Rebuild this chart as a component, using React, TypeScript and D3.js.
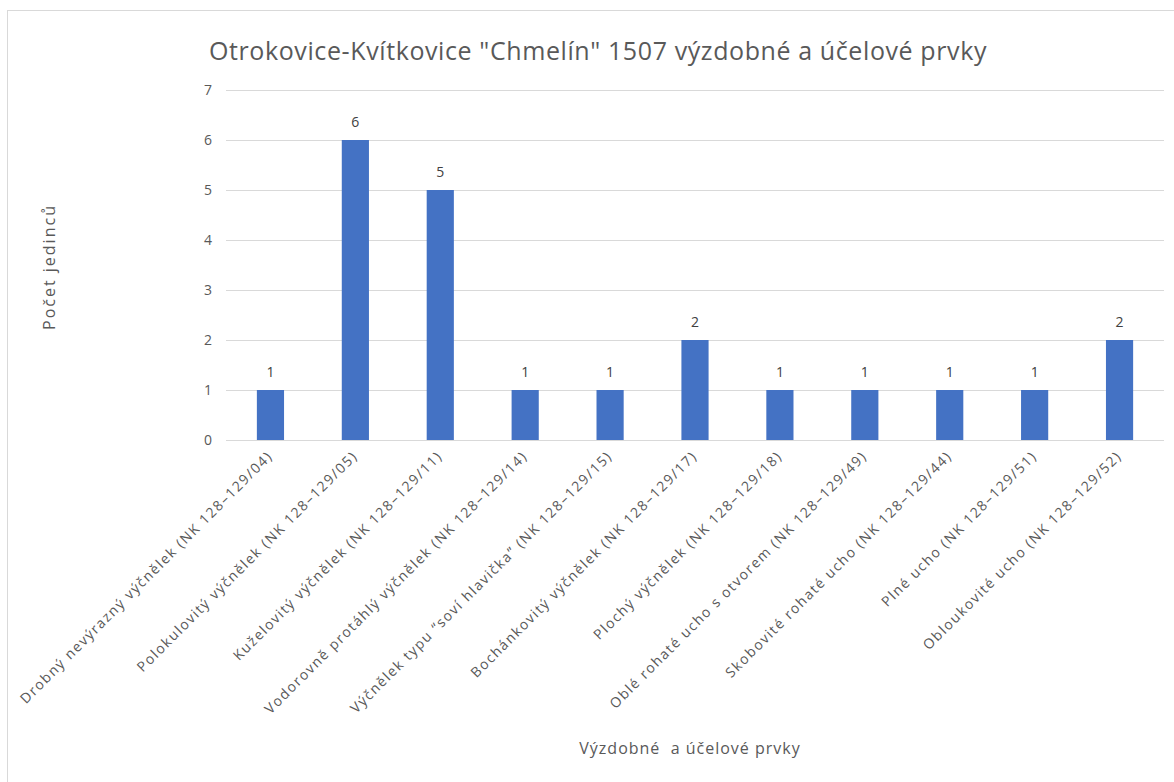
import React from "react";
import * as d3 from "d3";

const title = 'Otrokovice-Kvítkovice "Chmelín" 1507 výzdobné a účelové prvky';
const yAxisTitle = "Počet jedinců";
const xAxisTitle = "Výzdobné  a účelové prvky";

const categories = [
  "Drobný nevýrazný výčnělek (NK 128–129/04)",
  "Polokulovitý výčnělek (NK 128–129/05)",
  "Kuželovitý výčnělek (NK 128–129/11)",
  "Vodorovně protáhlý výčnělek (NK 128–129/14)",
  "Výčnělek typu “soví hlavička” (NK 128–129/15)",
  "Bochánkovitý výčnělek (NK 128–129/17)",
  "Plochý výčnělek (NK 128–129/18)",
  "Oblé rohaté ucho s otvorem (NK 128–129/49)",
  "Skobovité rohaté ucho (NK 128–129/44)",
  "Plné ucho (NK 128–129/51)",
  "Obloukovité ucho (NK 128–129/52)",
];
const values = [1, 6, 5, 1, 1, 2, 1, 1, 1, 1, 2];
const yTicks = [0, 1, 2, 3, 4, 5, 6, 7];

const W = 1174;
const H = 782;
const plot = { left: 228, right: 1162, top: 90, bottom: 440 };
const FONT = "'Open Sans', 'Noto Sans', sans-serif";

export default function App() {
  const x = d3
    .scaleBand<string>()
    .domain(categories)
    .range([plot.left, plot.right])
    .paddingInner(0.68)
    .paddingOuter(0.34);
  const y = d3.scaleLinear().domain([0, 7]).range([plot.bottom, plot.top]);

  return (
    <svg
      width={W}
      height={H}
      style={{ position: "absolute", left: 0, top: 0, background: "#fff" }}
      fontFamily={FONT}
    >
      <rect x={7.5} y={10.5} width={W} height={H} fill="#fff" stroke="#d9d9d9" />
      <text
        x={598}
        y={60}
        textAnchor="middle"
        fontSize={25}
        letterSpacing={0.6}
        fill="#595959"
      >
        {title}
      </text>

      {yTicks.map((t) => (
        <g key={t}>
          <line
            x1={plot.left - 2}
            x2={plot.right + 2}
            y1={Math.round(y(t)) + 0.5}
            y2={Math.round(y(t)) + 0.5}
            stroke="#d9d9d9"
            strokeWidth={1}
          />
          <text
            x={212}
            y={y(t)}
            dy="0.35em"
            textAnchor="end"
            fontSize={14}
            fill="#595959"
          >
            {t}
          </text>
        </g>
      ))}

      {categories.map((c, i) => (
        <g key={c}>
          <rect
            x={x(c)}
            y={y(values[i])}
            width={x.bandwidth()}
            height={y(0) - y(values[i])}
            fill="#4472c4"
          />
          <text
            x={(x(c) as number) + x.bandwidth() / 2}
            y={y(values[i]) - 13}
            textAnchor="middle"
            fontSize={14}
            fill="#404040"
          >
            {values[i]}
          </text>
          <text
            transform={`translate(${(x(c) as number) + x.bandwidth() / 2 + 3},${plot.bottom + 17}) rotate(-45)`}
            textAnchor="end"
            fontSize={14}
            letterSpacing={1.5}
            fill="#595959"
          >
            {c}
          </text>
        </g>
      ))}

      <text
        transform={`translate(55,${(plot.top + plot.bottom) / 2 + 2}) rotate(-90)`}
        textAnchor="middle"
        fontSize={16}
        letterSpacing={2}
        fill="#595959"
      >
        {yAxisTitle}
      </text>
      <text
        x={690}
        y={754}
        textAnchor="middle"
        fontSize={16}
        letterSpacing={1}
        fill="#595959"
        style={{ whiteSpace: "pre" }}
      >
        {xAxisTitle}
      </text>
    </svg>
  );
}
